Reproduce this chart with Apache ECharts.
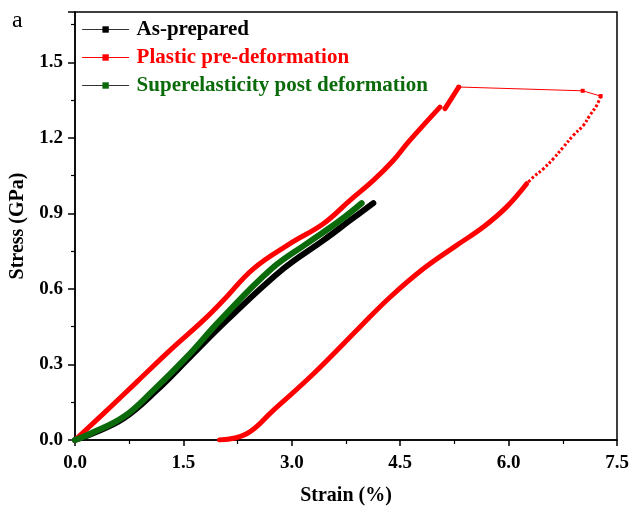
<!DOCTYPE html>
<html><head><meta charset="utf-8">
<script src="https://cdn.jsdelivr.net/npm/echarts@6/dist/echarts.min.js"></script>
<style>html,body{margin:0;padding:0;background:#fff}#c{width:632px;height:513px}</style>
</head><body><div id="c"></div>
<script>
// ---- data (strain %, stress GPa) ----
const xTicks = ['0.0','1.5','3.0','4.5','6.0','7.5'];
const yTicks = ['0.0','0.3','0.6','0.9','1.2','1.5'];

const asPreparedStrain = [0, 0.21, 0.67, 1.13, 1.59, 2.10, 2.882, 3.436, 3.805, 4.128];
const asPreparedStress = [0, 0.022, 0.085, 0.197, 0.329, 0.475, 0.680, 0.793, 0.872, 0.941];

const superStrain = [0, 0.21, 0.668, 1.083, 1.545, 2.006, 2.72, 3.206, 3.667, 3.967];
const superStress = [0, 0.025, 0.091, 0.197, 0.329, 0.475, 0.680, 0.780, 0.872, 0.941];

const plasticLoadStrain = [0, 0.39, 0.853, 1.314, 1.775, 2.05, 2.467, 2.975, 3.436, 3.805, 4.128, 4.404, 4.612, 5.05];
const plasticLoadStress = [0, 0.104, 0.230, 0.356, 0.475, 0.554, 0.680, 0.780, 0.859, 0.952, 1.031, 1.110, 1.183, 1.322];

const plasticJumpStrain = [5.12, 5.31];
const plasticJumpStress = [1.316, 1.402];

const plasticTopStrain = [5.31, 7.025, 7.274];
const plasticTopStress = [1.402, 1.387, 1.366];

const plasticDropStrain = [7.274, 7.219, 7.126, 7.033, 6.895, 6.756, 6.618, 6.480, 6.341, 6.25];
const plasticDropStress = [1.366, 1.329, 1.290, 1.249, 1.210, 1.163, 1.117, 1.077, 1.044, 1.018];

const plasticUnloadStrain = [6.25, 5.97, 5.65, 5.28, 4.82, 4.359, 3.94, 3.30, 2.74, 2.376, 2.0];
const plasticUnloadStress = [1.018, 0.925, 0.846, 0.773, 0.680, 0.567, 0.448, 0.263, 0.117, 0.025, 0.0];

const zip = (a, b) => a.map((v, i) => [v, b[i]]);

const RED = '#ff0000', GREEN = '#0b6b0b', BLACK = '#000000';
const serif = '"Liberation Serif", "DejaVu Serif", serif';
const SM = 0.4;

const chart = echarts.init(document.getElementById('c'), null, {renderer: 'canvas'});
chart.setOption({
  animation: false,
  backgroundColor: '#fff',
  grid: {left: 75, right: 15, top: 12, bottom: 73, show: true, borderColor: '#000', borderWidth: 1.5, containLabel: false},
  graphic: [{type: 'text', left: 12, top: 9, style: {text: 'a', font: '24px ' + serif, fill: '#000'}}],
  legend: {
    orient: 'vertical', left: 82, top: 19, padding: 0, itemGap: 7,
    itemWidth: 46, itemHeight: 8,
    textStyle: {fontFamily: serif, fontWeight: 'bold', fontSize: 21, padding: [0, 0, 0, 3]},
    lineStyle: {width: 1.2},
    data: [
      {name: 'As-prepared', textStyle: {color: BLACK}, lineStyle: {color: '#333', width: 1.2}},
      {name: 'Plastic pre-deformation', textStyle: {color: RED}, lineStyle: {color: RED, width: 1.2}},
      {name: 'Superelasticity post deformation', textStyle: {color: GREEN}, lineStyle: {color: '#333', width: 1.2}}
    ]
  },
  xAxis: {
    type: 'value', min: 0, max: 7.5, interval: 1.5,
    name: 'Strain (%)', nameLocation: 'middle', nameGap: 46,
    nameTextStyle: {fontFamily: serif, fontWeight: 'bold', fontSize: 20, color: '#000'},
    axisLine: {lineStyle: {color: '#000', width: 1.5}},
    axisTick: {inside: false, length: 6, lineStyle: {color: '#000', width: 1.5}},
    minorTick: {show: true, splitNumber: 2, length: 4, lineStyle: {color: '#000', width: 1.2}},
    splitLine: {show: false},
    axisLabel: {margin: 14, fontFamily: serif, fontWeight: 'bold', fontSize: 19, color: '#000',
      formatter: (v) => xTicks[Math.round(v / 1.5)] || ''}
  },
  yAxis: {
    type: 'value', min: 0, max: 1.7, interval: 0.3,
    name: 'Stress (GPa)', nameLocation: 'middle', nameGap: 47,
    nameTextStyle: {fontFamily: serif, fontWeight: 'bold', fontSize: 20, color: '#000'},
    axisLine: {show: true, lineStyle: {color: '#000', width: 1.5}},
    axisTick: {show: true, inside: false, length: 7, lineStyle: {color: '#000', width: 1.5}},
    minorTick: {show: true, splitNumber: 2, length: 4, lineStyle: {color: '#000', width: 1.2}},
    splitLine: {show: false},
    axisLabel: {margin: 12, showMaxLabel: false, fontFamily: serif, fontWeight: 'bold', fontSize: 19, color: '#000',
      formatter: (v) => { const i = Math.round(v / 0.3); return Math.abs(i * 0.3 - v) < 1e-6 ? (yTicks[i] || '') : ''; }}
  },
  series: [
    {name: 'As-prepared', type: 'line', data: zip(asPreparedStrain, asPreparedStress), smooth: SM,
      symbol: 'rect', symbolSize: 6, showSymbol: false, itemStyle: {color: BLACK},
      lineStyle: {color: BLACK, width: 6, cap: 'round'}, z: 2},
    {name: 'Plastic pre-deformation', type: 'line', data: zip(plasticLoadStrain, plasticLoadStress), smooth: SM,
      symbol: 'rect', symbolSize: 6, showSymbol: false, itemStyle: {color: RED},
      lineStyle: {color: RED, width: 5, cap: 'round'}, z: 3},
    {name: 'Plastic pre-deformation', type: 'line', data: zip(plasticJumpStrain, plasticJumpStress),
      symbol: 'rect', symbolSize: 6, showSymbol: false, itemStyle: {color: RED},
      lineStyle: {color: RED, width: 5, cap: 'round'}, z: 3},
    {name: 'Plastic pre-deformation', type: 'line', data: zip(plasticTopStrain, plasticTopStress),
      symbol: 'rect', symbolSize: 4, showSymbol: true, itemStyle: {color: RED},
      lineStyle: {color: RED, width: 1}, z: 3},
    {name: 'Plastic pre-deformation', type: 'line', data: zip(plasticDropStrain, plasticDropStress), smooth: SM,
      symbol: 'rect', symbolSize: 4, showSymbol: false, itemStyle: {color: RED},
      lineStyle: {color: RED, width: 3, type: [2.6, 2]}, z: 3},
    {name: 'Plastic pre-deformation', type: 'line', data: zip(plasticUnloadStrain, plasticUnloadStress), smooth: SM,
      symbol: 'rect', symbolSize: 6, showSymbol: false, itemStyle: {color: RED},
      lineStyle: {color: RED, width: 5, cap: 'round'}, z: 3},
    {name: 'Superelasticity post deformation', type: 'line', data: zip(superStrain, superStress), smooth: SM,
      symbol: 'rect', symbolSize: 6, showSymbol: false, itemStyle: {color: GREEN},
      lineStyle: {color: GREEN, width: 6, cap: 'round'}, z: 4}
  ]
});
</script></body></html>
